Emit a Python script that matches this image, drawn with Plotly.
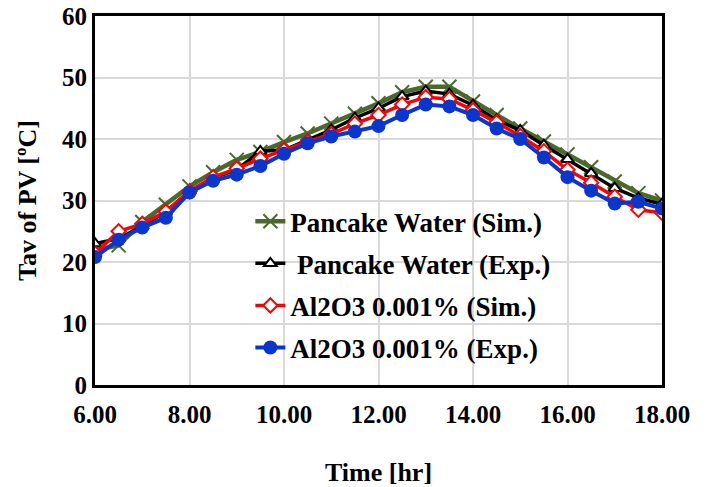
import plotly.graph_objects as go

time_hr = [6.0, 6.5, 7.0, 7.5, 8.0, 8.5, 9.0, 9.5, 10.0, 10.5, 11.0, 11.5, 12.0,
           12.5, 13.0, 13.5, 14.0, 14.5, 15.0, 15.5, 16.0, 16.5, 17.0, 17.5, 18.0]

pancake_water_sim = [22.0, 22.7, 26.5, 29.3, 32.3, 34.6, 36.6, 37.9, 39.5, 40.9, 42.5, 44.1, 45.8,
                     47.6, 48.5, 48.5, 46.1, 43.9, 41.7, 39.6, 37.5, 35.4, 33.1, 31.2, 30.0]
pancake_water_exp = [23.0, 23.8, 25.8, 28.2, 31.5, 33.6, 35.0, 38.0, 38.2, 39.8, 41.5, 43.4, 45.0,
                     46.9, 47.8, 47.3, 45.5, 43.1, 41.4, 39.0, 36.7, 34.4, 32.0, 30.4, 29.4]
al2o3_sim = [21.4, 25.0, 26.2, 28.2, 31.5, 33.8, 35.2, 36.8, 38.2, 39.6, 40.8, 42.5, 43.9,
             45.6, 46.8, 46.5, 44.7, 42.7, 40.5, 38.0, 35.0, 32.9, 30.6, 28.5, 28.0]
al2o3_exp = [20.8, 23.6, 25.6, 27.2, 31.3, 33.2, 34.2, 35.6, 37.6, 39.3, 40.4, 41.2, 42.1,
             43.9, 45.6, 45.3, 43.9, 41.7, 40.0, 37.0, 33.8, 31.6, 29.5, 29.8, 28.7]

x_ticks = [6, 8, 10, 12, 14, 16, 18]
x_tick_labels = ["6.00", "8.00", "10.00", "12.00", "14.00", "16.00", "18.00"]
y_ticks = [0, 10, 20, 30, 40, 50, 60]

FONT = "Liberation Serif"

fig = go.Figure()

fig.add_trace(go.Scatter(
    x=time_hr, y=pancake_water_sim, name="<b>Pancake Water (Sim.)</b>",
    mode="lines+markers", legendgroup="a",
    line=dict(color="#4a6a2c", width=4.5),
    marker=dict(symbol="x-thin", size=14, line=dict(color="#4a6a2c", width=2)),
))
fig.add_trace(go.Scatter(
    x=time_hr, y=pancake_water_exp, name="<b> Pancake Water (Exp.)</b>",
    mode="lines+markers", legendgroup="b",
    line=dict(color="black", width=3.5),
    marker=dict(symbol="triangle-up", size=11, color="white", line=dict(color="black", width=2)),
))
fig.add_trace(go.Scatter(
    x=time_hr, y=al2o3_sim, name="<b>Al2O3 0.001% (Sim.)</b>",
    mode="lines+markers", legendgroup="c",
    line=dict(color="#ff0000", width=3.5),
    marker=dict(symbol="diamond", size=11, color="white", line=dict(color="#ff0000", width=2)),
))
fig.add_trace(go.Scatter(
    x=time_hr, y=al2o3_exp, name="<b>Al2O3 0.001% (Exp.)</b>",
    mode="lines+markers", legendgroup="d",
    line=dict(color="#0a36cc", width=4),
    marker=dict(symbol="circle", size=14, color="#0a36cc"),
))

fig.update_layout(
    width=709, height=487,
    margin=dict(l=95, r=47, t=16, b=102, autoexpand=False),
    paper_bgcolor="white", plot_bgcolor="white",
    font=dict(family=FONT, size=25, color="black"),
    showlegend=True,
    legend=dict(
        x=0.274, y=0.509, xanchor="left", yanchor="top",
        bgcolor="rgba(0,0,0,0)", borderwidth=0,
        font=dict(family=FONT, size=27, color="black"),
        tracegroupgap=4,
    ),
    xaxis=dict(
        range=[6, 18], tickvals=x_ticks, ticktext=["<b>%s</b>" % t for t in x_tick_labels],
        showgrid=True, gridcolor="#d9d9d9", gridwidth=1.5,
        showline=True, linecolor="black", linewidth=3, mirror=True,
        zeroline=False, ticks="", ticklabelstandoff=5, automargin=False,
        title=dict(text="<b>Time [hr]</b>", font=dict(family=FONT, size=26), standoff=41),
    ),
    yaxis=dict(
        range=[0, 60], tickvals=y_ticks, ticktext=["<b>%d</b>" % v for v in y_ticks],
        showgrid=True, gridcolor="#d9d9d9", gridwidth=1.5,
        showline=True, linecolor="black", linewidth=3, mirror=True,
        zeroline=False, ticks="", ticklabelstandoff=0, automargin=False,
        title=dict(text="<b>Tav of PV [ºC]</b>", font=dict(family=FONT, size=26), standoff=18),
    ),
)

fig.write_html("out.html", config={"displayModeBar": False},
               post_script="document.body.style.margin='0';")
